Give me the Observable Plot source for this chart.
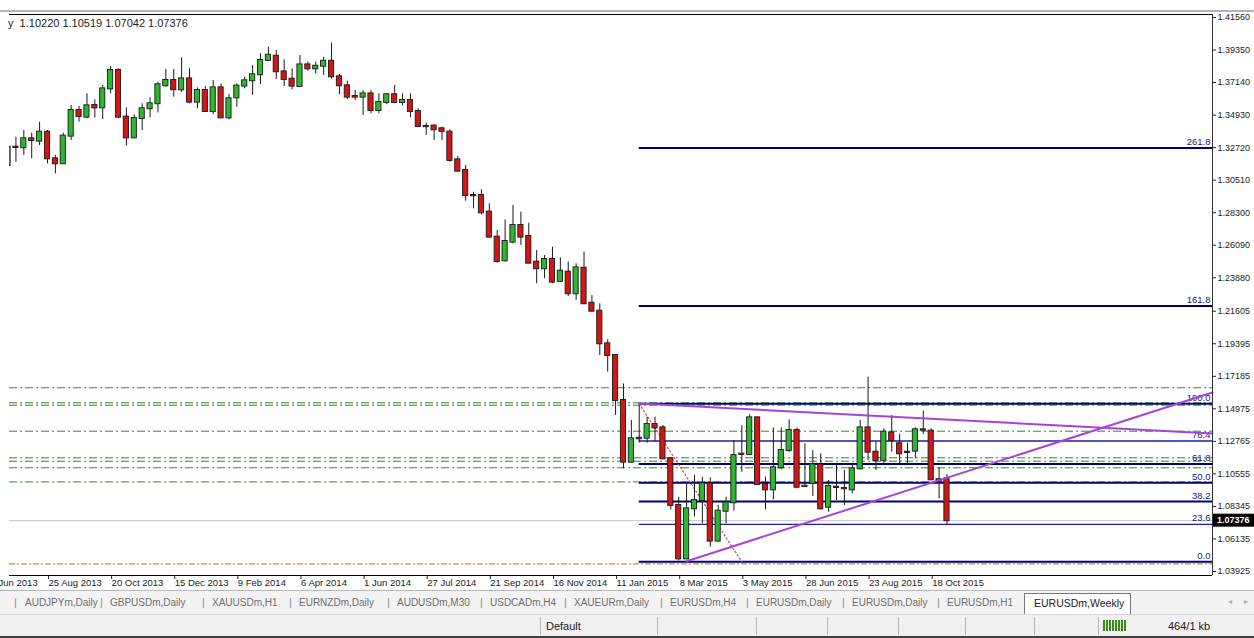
<!DOCTYPE html>
<html><head><meta charset="utf-8">
<script src="https://cdn.jsdelivr.net/npm/d3@7"></script>
<script src="https://cdn.jsdelivr.net/npm/@observablehq/plot@0.6"></script>
<style>
html,body{margin:0;padding:0;background:#fff;}
#wrap{position:relative;width:1254px;height:638px;overflow:hidden;font-family:"Liberation Sans",Arial,sans-serif;}
#chart{position:absolute;left:0;top:0;}
#topline{position:absolute;left:0;top:10px;width:1254px;height:2px;background:#b4b4b4;}
#info{position:absolute;left:8px;top:17px;font-size:11px;line-height:12px;color:#222;white-space:pre;}
#tabs{position:absolute;left:0;top:590px;width:1254px;height:24px;background:#f3f3f3;border-top:1px solid #b8b8b8;box-sizing:border-box;}
.tab{position:absolute;top:6px;font-size:10px;color:#6e6e6e;white-space:nowrap;}
.sep{position:absolute;top:5px;font-size:11px;color:#8a8a8a;}
#active{position:absolute;left:1024px;top:2px;width:107px;height:21px;background:#fff;border:1px solid #777;border-bottom:none;box-sizing:border-box;}
#active span{position:absolute;left:9px;top:3px;font-size:10.5px;color:#222;white-space:nowrap;}
.arrow{position:absolute;top:6px;font-size:8px;color:#aaa;}
#status{position:absolute;left:0;top:614px;width:1254px;height:22px;background:#f0f0f0;border-top:1px solid #d6d6d6;box-sizing:border-box;}
.ssep{position:absolute;top:2px;width:1px;height:18px;background:#b8b8b8;}
.stxt{position:absolute;top:5px;font-size:11px;color:#222;white-space:nowrap;}
#bottom{position:absolute;left:0;top:636px;width:1254px;height:2px;background:#3c3c3c;}
#bars{position:absolute;left:1103px;top:5px;width:23px;height:11px;background:repeating-linear-gradient(90deg,#3a8a1a 0 2px,#f0f0f0 2px 3px);}
</style></head><body>
<div id="wrap">
<div id="chart"></div>
<div id="topline"></div>
<div id="info">y  1.10220 1.10519 1.07042 1.07376</div>
<div id="tabs"></div>
<div id="status"></div>
<div id="bottom"></div>
</div>
<script>
// ---- weekly OHLC (EURUSDm, Weekly), weeks starting Sunday ----
const firstWeek = "2013-07-21";
const lastWeek = "2015-11-01";
const open = [1.3151,1.3275,1.3271,1.3332,1.3316,1.3377,1.3196,1.3162,1.3350,1.3524,
1.3479,1.3558,1.3542,1.3671,1.3796,1.3479,1.3338,1.3470,1.3536,1.3570,
1.3692,1.3728,1.3665,1.3739,1.3581,1.3660,1.3517,1.3678,1.3474,1.3610,
1.3690,1.3726,1.3767,1.3864,1.3893,1.3787,1.3737,1.3687,1.3834,1.3807,
1.3825,1.3859,1.3753,1.3692,1.3619,1.3615,1.3637,1.3524,1.3579,1.3631,
1.3579,1.3592,1.3517,1.3416,1.3418,1.3400,1.3377,1.3189,1.3117,1.2947,
1.2947,1.2834,1.2664,1.2503,1.2630,1.2743,1.2668,1.2494,1.2449,1.2512,
1.2363,1.2426,1.2279,1.2453,1.2215,1.2161,1.1939,1.1860,1.1554,1.1135,
1.1298,1.1298,1.1391,1.1368,1.1158,1.0841,1.0478,1.0818,1.0875,1.0988,
1.0599,1.0802,1.0859,1.1187,1.1187,1.1436,1.0983,1.0947,1.1097,1.1214,
1.1350,1.0970,1.0992,1.1117,1.0829,1.0965,1.0956,1.0947,1.1090,1.1368,
1.1203,1.1147,1.1334,1.1260,1.1203,1.1210,1.1355,1.1346,1.1016,1.10220];
const high = [1.3290,1.3343,1.3388,1.3370,1.3445,1.3388,1.3219,1.3370,1.3558,1.3551,
1.3637,1.3597,1.3694,1.3823,1.3807,1.3542,1.3495,1.3570,1.3610,1.3717,
1.3803,1.3803,1.3882,1.3807,1.3678,1.3687,1.3728,1.3705,1.3633,1.3705,
1.3751,1.3830,1.3909,1.3954,1.3932,1.3868,1.3807,1.3898,1.3853,1.3853,
1.3887,1.3982,1.3769,1.3724,1.3660,1.3660,1.3660,1.3637,1.3637,1.3694,
1.3637,1.3637,1.3536,1.3439,1.3429,1.3411,1.3393,1.3212,1.3151,1.2969,
1.2985,1.2890,1.2709,1.2781,1.2879,1.2834,1.2759,1.2573,1.2539,1.2596,
1.2523,1.2494,1.2483,1.2562,1.2267,1.2211,1.1966,1.1867,1.1667,1.1418,
1.1520,1.1441,1.1441,1.1384,1.1165,1.0897,1.0992,1.1045,1.1033,1.1029,
1.0841,1.0897,1.1282,1.1384,1.1459,1.1441,1.1033,1.1368,1.1368,1.1423,
1.1368,1.1260,1.1214,1.1192,1.1011,1.1112,1.1079,1.1112,1.1418,1.1713,
1.1271,1.1362,1.1452,1.1323,1.1264,1.1368,1.1481,1.1362,1.1097,1.10519];
const low = [1.3140,1.3173,1.3219,1.3196,1.3286,1.3162,1.3094,1.3157,1.3320,1.3445,
1.3468,1.3474,1.3463,1.3637,1.3468,1.3282,1.3334,1.3388,1.3474,1.3508,
1.3683,1.3615,1.3647,1.3570,1.3536,1.3511,1.3495,1.3468,1.3461,1.3547,
1.3671,1.3626,1.3701,1.3859,1.3735,1.3687,1.3665,1.3683,1.3791,1.3773,
1.3762,1.3739,1.3633,1.3599,1.3592,1.3490,1.3502,1.3502,1.3563,1.3570,
1.3556,1.3474,1.3411,1.3355,1.3320,1.3320,1.3173,1.3105,1.2908,1.2856,
1.2815,1.2659,1.2487,1.2494,1.2618,1.2607,1.2483,1.2347,1.2381,1.2347,
1.2358,1.2261,1.2234,1.2206,1.2154,1.1860,1.1747,1.1452,1.1090,1.1128,
1.1265,1.1264,1.1271,1.1151,1.0811,1.0463,1.0472,1.0762,1.0716,1.0558,
1.0592,1.0716,1.0802,1.1067,1.1180,1.0977,1.0811,1.0879,1.1083,1.1203,
1.0954,1.0965,1.0902,1.0811,1.0795,1.0875,1.0841,1.0920,1.1083,1.1147,
1.1079,1.1113,1.1203,1.1124,1.1124,1.1158,1.1323,1.1011,1.0886,1.07042];
const close = [1.3275,1.3273,1.3332,1.3320,1.3377,1.3196,1.3162,1.3350,1.3524,1.3483,
1.3556,1.3542,1.3671,1.3796,1.3479,1.3338,1.3470,1.3536,1.3570,1.3699,
1.3728,1.3665,1.3739,1.3581,1.3660,1.3517,1.3678,1.3474,1.3604,1.3690,
1.3726,1.3767,1.3864,1.3900,1.3787,1.3735,1.3690,1.3834,1.3807,1.3825,
1.3859,1.3753,1.3692,1.3615,1.3615,1.3637,1.3524,1.3579,1.3631,1.3579,
1.3592,1.3517,1.3416,1.3414,1.3393,1.3382,1.3185,1.3112,1.2947,1.2945,
1.2829,1.2664,1.2498,1.2634,1.2743,1.2664,1.2487,1.2449,1.2512,1.2358,
1.2433,1.2279,1.2455,1.2211,1.2161,1.1939,1.1860,1.1554,1.1135,1.1294,
1.1294,1.1391,1.1368,1.1158,1.0841,1.0478,1.0818,1.0875,1.0988,1.0599,
1.0802,1.0859,1.1180,1.1190,1.1436,1.0983,1.0947,1.1097,1.1214,1.1350,
1.0965,1.0972,1.1117,1.0818,1.0970,1.0963,1.0954,1.1090,1.1368,1.1203,
1.1147,1.1339,1.1282,1.1192,1.1201,1.1355,1.1352,1.1015,1.1005,1.07376];

// ---- axes ----
const yTicks = [1.41560,1.39350,1.37140,1.34930,1.32720,1.30510,1.28300,1.26090,1.23880,
1.21605,1.19395,1.17185,1.14975,1.12765,1.10555,1.08345,1.06135,1.03925];
const xTickDates = ["2013-06-30","2013-08-25","2013-10-20","2013-12-15","2014-02-09","2014-04-06",
"2014-06-01","2014-07-27","2014-09-21","2014-11-16","2015-01-11","2015-03-08","2015-05-03",
"2015-06-28","2015-08-23","2015-10-18"];
const xDomain = ["2013-07-22T07:00Z","2016-06-23T14:00Z"];
const yDomain = [1.03652, 1.41764];
const lastPrice = 1.07376;

// ---- Fibonacci retracement (anchored 1 Feb 2015 high -> Mar 2015 low) ----
const fibStart = "2015-02-01";
const fibLabels = ["0.0","23.6","38.2","50.0","61.8","76.4","100.0","161.8","261.8"];
const fibPrices = [1.0458,1.0712,1.0868,1.0995,1.1122,1.1279,1.1532,1.2196,1.3270];
const fibWidths = [2,1.3,1.8,2,2,1.3,2,2,2];
const fibBase = [{date:"2015-02-01",price:1.1532},{date:"2015-05-03",price:1.0458}];

// ---- horizontal dash-dot levels ----
const greenLevels = [1.16404,1.15385,1.15222,1.13455,1.11648,1.11417,1.10969,1.10010];
const orangeLevel = [1.04447];

// ---- trend lines ----
const trendDown = [{date:"2015-02-01",price:1.1534},{date:"2016-06-23T14:00Z",price:1.1330}];
const trendUp = [{date:"2015-03-15",price:1.0462},{date:"2016-06-23T14:00Z",price:1.1608}];

// ---- bottom tabs ----
const tabNames = ["AUDJPYm,Daily","GBPUSDm,Daily","XAUUSDm,H1","EURNZDm,Daily","AUDUSDm,M30",
"USDCADm,H4","XAUEURm,Daily","EURUSDm,H4","EURUSDm,Daily","EURUSDm,Daily","EURUSDm,H1"];
const activeTab = "EURUSDm,Weekly";
const statusTexts = ["Default","464/1 kb"];

// ================= build =================
const weeks = d3.utcWeek.range(new Date(firstWeek), d3.utcDay.offset(new Date(lastWeek), 1));
const candles = weeks.map((d, i) => ({date: d, open: open[i], high: high[i], low: low[i], close: close[i]}));
const DAY = 864e5;
const D = s => new Date(s);
const fib = fibPrices.map((p, i) => ({price: p, label: fibLabels[i], w: fibWidths[i]}));
const xEnd = D(xDomain[1]);

const plot = Plot.plot({
  width: 1254,
  height: 590,
  marginLeft: 9,
  marginRight: 42,
  marginTop: 14,
  marginBottom: 15,
  style: {fontFamily: "Liberation Sans, Arial, sans-serif", background: "transparent", overflow: "hidden"},
  x: {type: "utc", domain: xDomain.map(D)},
  y: {domain: yDomain},
  color: {type: "identity"},
  marks: [
    Plot.ruleY([lastPrice], {stroke: "#c4c4c4", strokeWidth: 1}),
    Plot.ruleY(greenLevels, {stroke: "#2a8c2a", strokeWidth: 1, strokeDasharray: "8,3,2,3"}),
    Plot.ruleY(orangeLevel, {stroke: "#e8842c", strokeWidth: 1.2, strokeDasharray: "6,2,2,2"}),
    Plot.ruleY(fib, {y: "price", x1: D(fibStart), x2: xEnd, stroke: d => d.w < 1.5 ? "#1c1ca8" : "#000078", strokeWidth: d => d.w}),
    Plot.text(fib, {x: xEnd, y: "price", text: "label", textAnchor: "end", dx: -2, dy: -6, fill: "#1a1a80", fontSize: 9.5}),
    Plot.line(fibBase, {x: d => D(d.date), y: "price", stroke: "#d8406e", strokeWidth: 1.2, strokeDasharray: "1.5,2.5"}),
    Plot.ruleX(candles, {x: "date", y1: "low", y2: "high", stroke: "#1a1a1a", strokeWidth: 1, clip: true}),
    Plot.rect(candles, {
      x1: d => new Date(+d.date - 2.3 * DAY), x2: d => new Date(+d.date + 2.3 * DAY),
      y1: "open", y2: "close",
      fill: d => d.close >= d.open ? "#2fb52f" : "#d21616",
      stroke: "#1a1a1a", strokeWidth: 0.9, insetTop: -0.5, insetBottom: -0.5, clip: true
    }),
    Plot.line(trendDown, {x: d => D(d.date), y: "price", stroke: "#a445d6", strokeWidth: 2}),
    Plot.line(trendUp, {x: d => D(d.date), y: "price", stroke: "#a445d6", strokeWidth: 2}),
    Plot.ruleY([yDomain[1]], {stroke: "#000", strokeWidth: 1.2}),
    Plot.ruleY([yDomain[0]], {stroke: "#000", strokeWidth: 1}),
    Plot.ruleX([xEnd], {stroke: "#333", strokeWidth: 1}),
    Plot.axisY({anchor: "right", ticks: yTicks, tickFormat: d3.format(".5f"), tickSize: 3, tickPadding: 2, fontSize: 9, label: null, color: "#222"}),
    Plot.axisX({ticks: xTickDates.map(D), tickFormat: d3.utcFormat("%-d %b %Y"), tickSize: 4, tickPadding: 0, textAnchor: "start", dx: 1, fontSize: 9.5, label: null, color: "#222"})
  ]
});
document.getElementById("chart").appendChild(plot);

// last price tag on the price axis, placed with the plot's y scale
const ys = plot.scale("y").apply(lastPrice);
const xs = plot.scale("x").range[1];
const svg = d3.select(plot);
svg.append("rect").attr("x", xs + 1).attr("y", ys - 6.5).attr("width", 41).attr("height", 13).attr("fill", "#000");
svg.append("text").attr("x", xs + 5).attr("y", ys + 3.3).attr("text-anchor", "start").attr("fill", "#fff")
  .attr("font-size", 9).attr("font-weight", "bold").text(d3.format(".5f")(lastPrice));

// tabs
const tabLeft = [25, 110, 212, 299, 397, 490, 574, 670, 756, 852, 947];
const sepLeft = [14, 100, 202, 289, 387, 480, 564, 660, 746, 842, 937];
const tabs = d3.select("#tabs");
tabNames.forEach((t, i) => {
  tabs.append("span").attr("class", "sep").style("left", sepLeft[i] + "px").text("|");
  tabs.append("span").attr("class", "tab").style("left", tabLeft[i] + "px").text(t);
});
tabs.append("div").attr("id", "active").append("span").text(activeTab);
tabs.append("span").attr("class", "arrow").style("left", "1228px").text("◂");
tabs.append("span").attr("class", "arrow").style("left", "1244px").text("▸");

const status = d3.select("#status");
[540, 657, 756, 827, 898, 965, 1034, 1098].forEach(x => status.append("div").attr("class", "ssep").style("left", x + "px"));
status.append("span").attr("class", "stxt").style("left", "546px").text(statusTexts[0]);
status.append("div").attr("id", "bars");
status.append("span").attr("class", "stxt").style("left", "1168px").text(statusTexts[1]);
</script>
</body></html>
